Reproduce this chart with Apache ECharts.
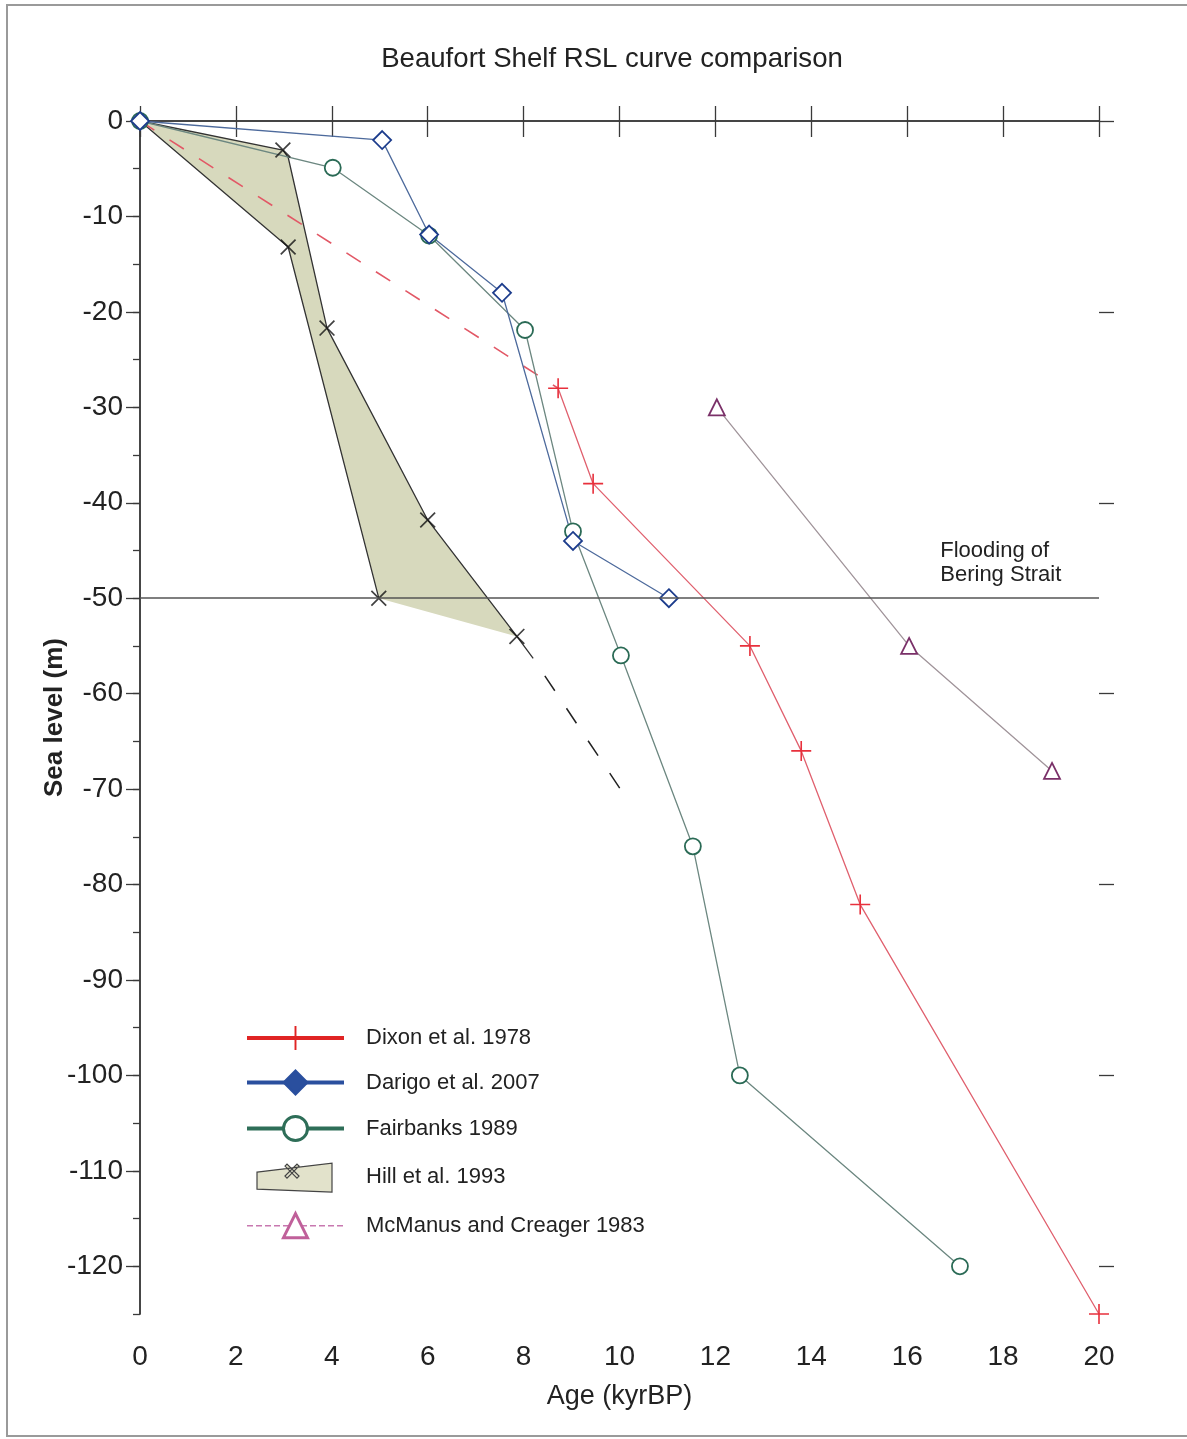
<!DOCTYPE html>
<html>
<head>
<meta charset="utf-8">
<script src="https://cdn.jsdelivr.net/npm/echarts@6/dist/echarts.min.js"></script>
<style>
html,body{margin:0;padding:0;background:#fff;}
#chart{width:1187px;height:1439px;}
</style>
</head>
<body>
<div id="chart"></div>
<script>
// ---------------- data ----------------
var xTicks = [0, 20, 2];            // min, max, step (kyr BP)
var yTicks = [-120, 0, 10];         // labelled sea-level ticks (m)
var yExtent = [-125, 0];

var dixonDashed = [[0, 0], [8.72, -28]];
var dixon = [[8.72, -28], [9.45, -38], [12.72, -55], [13.79, -66], [15.02, -82.1], [20, -125]];
var darigo = [[0, 0], [5.05, -2], [6.03, -11.9], [7.55, -18], [9.03, -44], [11.03, -50]];
var fairbanks = [[0, 0], [4.02, -4.9], [6.03, -12], [8.03, -21.9], [9.03, -43], [10.03, -56], [11.53, -76], [12.51, -100], [17.1, -120]];
var mcmanus = [[12.03, -30], [16.04, -55], [19.02, -68.1]];
var hillUpper = [[0, 0], [2.98, -3.04], [3.09, -3.8], [3.9, -21.7], [6.0, -41.8], [7.86, -54], [8.2, -56.3]];
var hillLower = [[0, 0], [3.09, -13.2], [4.98, -50]];
var hillExtrap = [[8.2, -56.3], [10.03, -70.1]];
var hillMarks = [[2.98, -3.04], [3.09, -13.2], [3.9, -21.7], [4.98, -50], [6.0, -41.8], [7.86, -54]];
var hillPolygon = [[0, 0], [2.98, -3.04], [3.09, -3.8], [3.9, -21.7], [6.0, -41.8], [7.86, -54], [4.98, -50], [3.09, -13.2]];
var beringLevel = -50;
var beringLabelAt = [16.7, -48.85];

var names = ['Dixon et al. 1978', 'Darigo et al. 2007', 'Fairbanks 1989', 'Hill et al. 1993', 'McManus and Creager 1983'];
var titleText = 'Beaufort Shelf RSL curve comparison';
var xName = 'Age (kyrBP)';
var yName = 'Sea level (m)';
var beringText = 'Flooding of\nBering Strait';

// ---------------- style ----------------
var FONT = "'Liberation Sans', Arial, Helvetica, sans-serif";
var AX = '#3a3a3a';
var plusPath = 'path://M-10,-0.8L10,-0.8L10,0.8L-10,0.8Z M-0.8,-10L0.8,-10L0.8,10L-0.8,10Z';
var crossPath = 'path://M-8,-6.8L-6.8,-8L8,6.8L6.8,8Z M6.8,-8L8,-6.8L-6.8,8L-8,6.8Z';
var hillIcon = 'path://M0,0L0,0 M97,30L97,30 M10,10L85,1L85,30L10,27Z M38,4L40,2L52,14L50,16Z M50,2L52,4L40,16L38,14Z';

var gridLeft = 140, gridTop = 121, gridRight = 88, gridBottom = 125;
var plotH = 1439 - gridTop - gridBottom;
var labelGridH = plotH * (yTicks[1] - yTicks[0]) / (yExtent[1] - yExtent[0]);

var chart = echarts.init(document.getElementById('chart'), null, {renderer: 'canvas'});

var option = {
  animation: false,
  backgroundColor: '#fff',
  textStyle: {fontFamily: FONT, color: '#222'},
  title: {
    text: titleText, left: 607, top: 40, textAlign: 'center',
    textStyle: {fontFamily: FONT, fontSize: 27.6, fontWeight: 'normal', color: '#222'}
  },
  graphic: [{
    type: 'rect', silent: true, z: -1,
    shape: {x: 7, y: 5, width: 1200, height: 1431},
    style: {fill: 'none', stroke: '#9a9a9a', lineWidth: 2}
  }],
  grid: [
    {left: gridLeft, top: gridTop, right: gridRight, bottom: gridBottom},
    {left: gridLeft, top: gridTop, right: gridRight, height: labelGridH}
  ],
  xAxis: [
    {
      type: 'value', gridIndex: 0, position: 'bottom', min: xTicks[0], max: xTicks[1], interval: xTicks[2],
      axisLine: {show: true, lineStyle: {color: AX, width: 1.5}},
      axisTick: {show: true, length: 16, lineStyle: {color: AX, width: 1.3}},
      axisLabel: {show: true, margin: 29, fontSize: 28, color: '#222', fontFamily: FONT},
      splitLine: {show: false},
      name: xName, nameLocation: 'middle', nameGap: 69,
      nameTextStyle: {fontSize: 27, color: '#222', fontFamily: FONT}
    },
    {
      type: 'value', gridIndex: 0, position: 'top', min: xTicks[0], max: xTicks[1], interval: xTicks[2],
      axisLine: {show: true, lineStyle: {color: AX, width: 1.5}},
      axisTick: {show: true, length: 15, lineStyle: {color: AX, width: 1.3}},
      axisLabel: {show: false}, splitLine: {show: false}
    },
    {type: 'value', gridIndex: 1, min: xTicks[0], max: xTicks[1], show: false}
  ],
  yAxis: [
    {
      type: 'value', gridIndex: 0, position: 'left', min: yExtent[0], max: yExtent[1], interval: 5,
      axisLine: {show: true, lineStyle: {color: AX, width: 1.5}},
      axisTick: {show: true, length: 7, lineStyle: {color: AX, width: 1.3}},
      axisLabel: {show: false}, splitLine: {show: false},
      name: yName, nameLocation: 'middle', nameGap: 72,
      nameTextStyle: {fontSize: 26, fontWeight: 'bold', color: '#222', fontFamily: FONT}
    },
    {
      type: 'value', gridIndex: 0, position: 'right', min: yExtent[0], max: yExtent[1],
      axisLine: {show: true, lineStyle: {color: AX, width: 1.5}},
      axisTick: {show: false}, axisLabel: {show: false}, splitLine: {show: false}
    },
    {
      type: 'value', gridIndex: 1, position: 'left', min: yTicks[0], max: yTicks[1], interval: yTicks[2],
      axisLine: {show: false},
      axisTick: {show: true, length: 14, lineStyle: {color: AX, width: 1.3}},
      axisLabel: {show: true, margin: 17, fontSize: 28, color: '#222', fontFamily: FONT},
      splitLine: {show: false}
    },
    {
      type: 'value', gridIndex: 1, position: 'right', min: yTicks[0], max: yTicks[1], interval: yTicks[2] * 2,
      axisLine: {show: false},
      axisTick: {show: true, length: 15, lineStyle: {color: AX, width: 1.3}},
      axisLabel: {show: false}, splitLine: {show: false}
    }
  ],
  legend: {
    orient: 'vertical', left: 245, top: 1026, padding: 0,
    itemWidth: 97, itemHeight: 30, itemGap: 19.5,
    selectedMode: false,
    textStyle: {fontSize: 22, color: '#222', fontFamily: FONT, padding: [0, 0, 0, 17]},
    data: [
      {name: names[0], itemStyle: {color: '#e02424', borderWidth: 0}, lineStyle: {color: '#e02424', width: 4}},
      {name: names[1], itemStyle: {color: '#2a4f9e', borderColor: '#2a4f9e', borderWidth: 2}, lineStyle: {color: '#2a4f9e', width: 4}},
      {name: names[2], itemStyle: {color: '#fff', borderColor: '#2e6e58', borderWidth: 3}, lineStyle: {color: '#2e6e58', width: 4}},
      {name: names[3], icon: hillIcon, itemStyle: {color: '#e2e2cb', borderColor: '#444', borderWidth: 1.2}},
      {name: names[4], itemStyle: {color: '#fff', borderColor: '#c0609a', borderWidth: 3}, lineStyle: {color: '#c878b0', width: 1.5, type: 'dashed'}}
    ]
  },
  series: [
    {
      name: names[3], type: 'custom', xAxisIndex: 0, yAxisIndex: 0, z: 1,
      data: hillPolygon, encode: {x: 0, y: 1},
      itemStyle: {color: '#d6d8bb'},
      renderItem: function (params, api) {
        if (params.dataIndex !== 0) return null;
        var pts = hillPolygon.map(function (p) { return api.coord(p); });
        return {type: 'polygon', shape: {points: pts}, style: {fill: '#d7d9bd', stroke: null}};
      }
    },
    {
      name: 'hillUpper', type: 'line', xAxisIndex: 0, yAxisIndex: 0, z: 2, data: hillUpper,
      symbol: 'none', lineStyle: {color: '#333', width: 1.3}
    },
    {
      name: 'hillLower', type: 'line', xAxisIndex: 0, yAxisIndex: 0, z: 2, data: hillLower,
      symbol: 'none', lineStyle: {color: '#333', width: 1.3}
    },
    {
      name: 'hillExtrap', type: 'line', xAxisIndex: 0, yAxisIndex: 0, z: 2, data: hillExtrap,
      symbol: 'none', lineStyle: {color: '#222', width: 1.5, type: [18, 21], dashOffset: 18}
    },
    {
      name: 'hillMarks', type: 'scatter', xAxisIndex: 0, yAxisIndex: 0, z: 4, data: hillMarks,
      symbol: crossPath, symbolSize: 16, itemStyle: {color: '#111', borderWidth: 0}
    },
    {
      name: 'dixonDashed', type: 'line', xAxisIndex: 0, yAxisIndex: 0, z: 3, data: dixonDashed,
      symbol: 'none', lineStyle: {color: '#e25866', width: 1.6, type: [17, 18]}
    },
    {
      name: names[0], type: 'line', xAxisIndex: 0, yAxisIndex: 0, z: 3, data: dixon,
      symbol: plusPath, symbolSize: 20, showAllSymbol: true,
      itemStyle: {color: '#e8303c', borderWidth: 0},
      lineStyle: {color: '#e0606e', width: 1.3}
    },
    {
      name: names[2], type: 'line', xAxisIndex: 0, yAxisIndex: 0, z: 3, data: fairbanks,
      symbol: 'circle', symbolSize: 16, showAllSymbol: true,
      itemStyle: {color: '#fff', borderColor: '#2a6a55', borderWidth: 1.8},
      lineStyle: {color: '#6c8780', width: 1.3}
    },
    {
      name: names[1], type: 'line', xAxisIndex: 0, yAxisIndex: 0, z: 3, data: darigo,
      symbol: 'diamond', symbolSize: 18, showAllSymbol: true,
      itemStyle: {color: '#fff', borderColor: '#1c3c8c', borderWidth: 1.8},
      lineStyle: {color: '#4d6a9c', width: 1.3}
    },
    {
      name: names[4], type: 'line', xAxisIndex: 0, yAxisIndex: 0, z: 3, data: mcmanus,
      symbol: 'triangle', symbolSize: 16, showAllSymbol: true,
      itemStyle: {color: '#fff', borderColor: '#7a3068', borderWidth: 1.8},
      lineStyle: {color: '#a0949a', width: 1.3},
      markLine: {
        silent: true, symbol: 'none', animation: false,
        label: {show: false},
        lineStyle: {color: '#555', width: 1.6, type: 'solid'},
        data: [{yAxis: beringLevel}]
      },
      markPoint: {
        silent: true, symbol: 'circle', symbolSize: 1, animation: false,
        itemStyle: {color: 'rgba(0,0,0,0)'},
        label: {
          show: true, position: [0, 0], align: 'left', verticalAlign: 'bottom',
          formatter: beringText, fontSize: 22, lineHeight: 24, color: '#222', fontFamily: FONT
        },
        data: [{coord: beringLabelAt}]
      }
    }
  ]
};

chart.setOption(option);
</script>
</body>
</html>
